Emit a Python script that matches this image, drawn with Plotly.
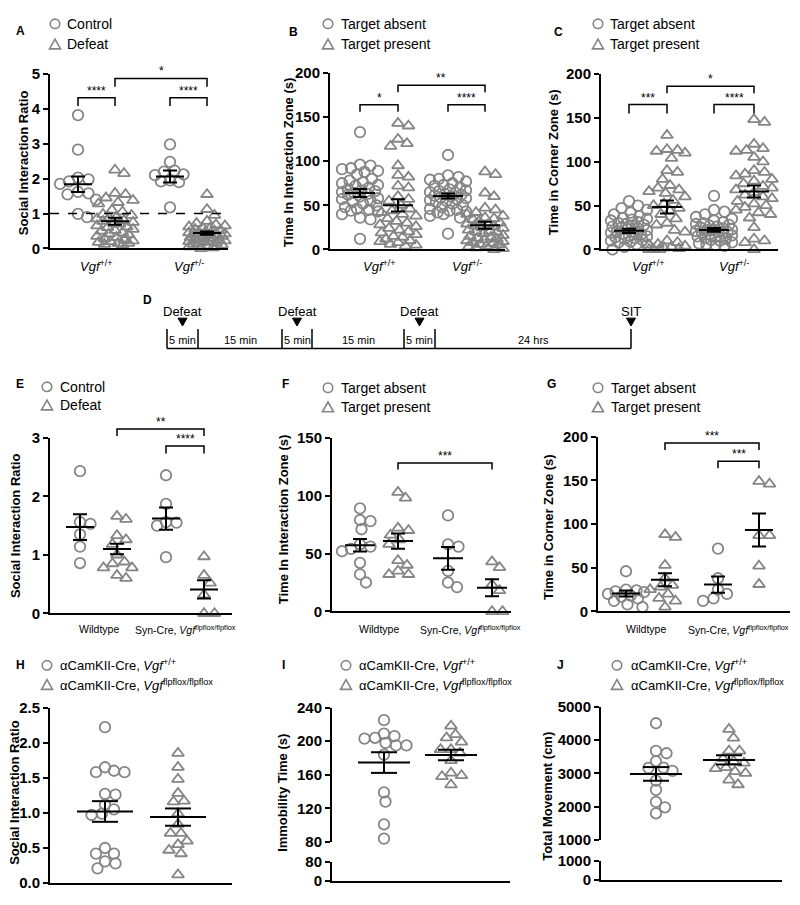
import plotly.graph_objects as go

# ======================= DATA =======================
# Panel A - Social interaction ratio (Control / Defeat) for Vgf+/+ and Vgf+/-
A_categories = ["<i>Vgf</i><sup>+/+</sup>", "<i>Vgf</i><sup>+/-</sup>"]
A_series = ["Control", "Defeat"]
A_ctrl_wt = [3.82, 2.83, 2.03, 1.98, 1.92, 1.85, 1.62, 1.58, 1.55, 1.40, 0.99, 0.90]
A_def_wt = [2.25, 2.15, 1.58, 1.55, 1.45, 1.38, 1.32, 1.28, 1.10, 1.05, 0.98, 0.95, 0.90, 0.88,
            0.85, 0.80, 0.78, 0.75, 0.72, 0.70, 0.65, 0.62, 0.60, 0.55, 0.52, 0.50, 0.45, 0.42,
            0.40, 0.35, 0.32, 0.28, 0.25, 0.22, 0.20, 0.18, 0.15, 0.15, 0.12, 0.10]
A_ctrl_het = [2.98, 2.48, 2.23, 2.20, 2.12, 2.10, 1.95, 1.92, 1.90, 1.18]
A_def_het = [1.55, 1.12, 0.95, 0.78, 0.72, 0.68, 0.65, 0.62, 0.60, 0.58, 0.55, 0.52, 0.50, 0.48,
             0.45, 0.45, 0.42, 0.40, 0.40, 0.38, 0.35, 0.35, 0.32, 0.30, 0.30, 0.28, 0.25, 0.25,
             0.22, 0.20, 0.20, 0.18, 0.15, 0.15, 0.12, 0.10, 0.08, 0.05, 0.02, 0.0]
A_means = [1.84, 0.78, 2.06, 0.44]
A_sems = [0.22, 0.10, 0.17, 0.05]
A_sig = ["****", "****", "*"]

# Panel B - Time in interaction zone (s)
B_series = ["Target absent", "Target present"]
B_abs_wt = [133, 96, 95, 92, 91, 89, 88, 85, 80, 78, 76, 75, 73, 72, 70, 68, 67, 66, 65, 64, 63,
            62, 60, 58, 57, 55, 54, 52, 50, 48, 46, 45, 44, 43, 40, 36, 34, 12]
B_pres_wt = [143, 140, 125, 120, 117, 95, 84, 82, 72, 70, 60, 57, 55, 50, 46, 44, 42, 40, 38, 35,
             32, 30, 28, 26, 24, 22, 20, 19, 17, 15, 14, 12, 10, 9, 8, 6, 5, 4]
B_abs_het = [107, 84, 82, 80, 79, 77, 75, 73, 72, 70, 68, 67, 66, 65, 64, 63, 62, 61, 60, 59, 58,
             57, 56, 55, 54, 52, 50, 48, 46, 45, 44, 43, 42, 40, 38, 36, 18]
B_pres_het = [88, 85, 64, 60, 47, 45, 42, 40, 38, 36, 35, 34, 32, 30, 29, 28, 27, 26, 25, 24, 22,
              21, 20, 19, 18, 16, 15, 14, 13, 12, 11, 10, 9, 8, 7, 6, 5, 4, 3, 2, 1, 0]
B_means = [64, 50, 60.5, 27.5]
B_sems = [4.6, 7.0, 2.8, 4.0]
B_sig = ["*", "****", "**"]

# Panel C - Time in corner zone (s)
C_abs_wt = [55, 50, 47, 45, 42, 40, 38, 36, 35, 34, 33, 31, 30, 29, 28, 27, 26, 25, 24, 23, 22,
            21, 20, 19, 18, 17, 16, 15, 14, 13, 12, 11, 10, 9, 8, 6, 5, 3, 0]
C_pres_wt = [130, 114, 113, 112, 110, 104, 90, 88, 80, 73, 70, 68, 66, 64, 60, 56, 52, 50, 47, 44,
             40, 35, 30, 28, 22, 20, 10, 8, 6, 5, 4, 3, 2, 1, 0, 0, 0]
C_abs_het = [61, 45, 43, 40, 37, 35, 33, 31, 30, 29, 28, 27, 26, 25, 24, 23, 22, 22, 21, 20, 20,
             19, 18, 17, 16, 15, 14, 13, 12, 11, 10, 8, 7, 6, 5, 4]
C_pres_het = [148, 145, 120, 115, 113, 112, 105, 100, 90, 88, 86, 84, 80, 78, 75, 72, 70, 68, 65,
              62, 60, 58, 55, 52, 50, 48, 45, 42, 40, 36, 25, 12, 10, 8, 0]
C_means = [21.2, 48.4, 22.3, 66]
C_sems = [2.5, 7.4, 2.2, 6.9]
C_sig = ["***", "****", "*"]

# Panel D - timeline
D_segments = ["5 min", "15 min", "5 min", "15 min", "5 min", "24 hrs"]
D_events = ["Defeat", "Defeat", "Defeat", "SIT"]

# Panel E - Social interaction ratio, Wildtype vs Syn-Cre
EFG_categories = ["Wildtype", "Syn-Cre, <i>Vgf</i><sup>flpflox/flpflox</sup>"]
E_ctrl_wt = [2.43, 1.56, 1.53, 1.35, 1.14, 0.86]
E_def_wt = [1.66, 1.61, 1.33, 1.26, 1.18, 1.00, 0.88, 0.85, 0.78, 0.78, 0.65, 0.60]
E_ctrl_syn = [2.36, 1.87, 1.56, 1.55, 1.50, 0.96]
E_def_syn = [0.97, 0.65, 0.52, 0.32, 0.0, 0.0]
E_means = [1.475, 1.10, 1.62, 0.41]
E_sems = [0.22, 0.09, 0.19, 0.155]
E_sig = ["**", "****"]

# Panel F - Time in interaction zone
F_abs_wt = [89, 79, 78, 71, 58, 56, 54, 52, 42, 32, 25]
F_pres_wt = [103, 98, 72, 70, 66, 62, 58, 44, 40, 35, 32, 32]
F_abs_syn = [83, 58, 56, 35, 25, 21]
F_pres_syn = [43, 38, 23, 18, 0, 0]
F_means = [57.1, 60.8, 45.9, 20.5]
F_sems = [5.4, 6.6, 9.8, 7.3]
F_sig = ["***"]

# Panel G - Time in corner zone
G_abs_wt = [46, 25, 24, 23, 22, 20, 18, 17, 15, 12, 8, 5]
G_pres_wt = [88, 85, 53, 38, 30, 28, 25, 20, 15, 12, 5]
G_abs_syn = [72, 38, 25, 20, 15, 12]
G_pres_syn = [149, 146, 87, 87, 52, 31]
G_means = [20.6, 36.3, 30.7, 93.3]
G_sems = [3.4, 7.5, 9.4, 19.0]
G_sig = ["***", "***"]

# Panels H, I, J - aCamKII-Cre
HIJ_series = ["\u03b1CamKII-Cre, <i>Vgf</i><sup>+/+</sup>",
              "\u03b1CamKII-Cre, <i>Vgf</i><sup>flpflox/flpflox</sup>"]
H_wt = [2.22, 1.65, 1.60, 1.58, 1.58, 1.27, 1.26, 1.12, 1.05, 0.99, 0.97, 0.50, 0.42, 0.42, 0.31,
        0.28, 0.21]
H_flox = [1.85, 1.65, 1.48, 1.28, 1.17, 1.16, 0.99, 0.84, 0.71, 0.71, 0.60, 0.55, 0.47, 0.42, 0.12]
H_means = [1.02, 0.94]
H_sems = [0.147, 0.123]

I_wt = [225, 209, 206, 204, 203, 198, 195, 195, 184, 139, 128, 101, 84]
I_flox = [218, 208, 204, 199, 190, 190, 186, 177, 162, 159, 158, 148]
I_means = [174.5, 183.5]
I_sems = [12.3, 6.3]

J_wt = [4500, 3670, 3600, 3360, 3170, 3160, 3070, 2780, 2500, 2140, 1980, 1800]
J_flox = [4320, 4060, 3670, 3670, 3440, 3360, 3310, 3170, 3140, 3050, 3000, 2800, 2660]
J_means = [2980, 3400]
J_sems = [205, 137]

# ======================= STYLE / LAYOUT =======================
FONT = "Liberation Sans, Arial, sans-serif"
GRAY = "#858585"
PAGE_W, PAGE_H = 800, 905
BODY = 8  # default body margin of the html page
W, H = PAGE_W - 2 * BODY, PAGE_H - 2 * BODY


def fx(p):
    return (p - BODY) / W


def fy(p):
    return 1 - (p - BODY) / H


fig = go.Figure()
shapes = []
annotations = []
layout = dict(width=W, height=H, margin=dict(l=0, r=0, t=0, b=0), paper_bgcolor="white",
              plot_bgcolor="rgba(0,0,0,0)", showlegend=False,
              font=dict(family=FONT, color="black"))
counters = {"x": 0, "y": 0}


def new_axis(kind):
    counters[kind] += 1
    n = counters[kind]
    ref = kind if n == 1 else f"{kind}{n}"
    key = f"{kind}axis" if n == 1 else f"{kind}axis{n}"
    return ref, key


def yaxis_dict(ydom, yrange, tickvals, xref, tickformat=None):
    d = dict(domain=[fy(ydom[1]), fy(ydom[0])], range=yrange, anchor=xref, tickvals=tickvals,
             ticks="outside", ticklen=5, tickwidth=2, tickcolor="black", showline=True,
             linecolor="black", linewidth=2, showgrid=False, zeroline=False, fixedrange=True,
             tickfont=dict(family=FONT, size=15, color="black", weight="bold"))
    if tickformat:
        d["tickformat"] = tickformat
    return d


def swarm(vals, ppu, maxhalf, diam=10.5, step=1.5):
    order = sorted(range(len(vals)), key=lambda i: -vals[i])
    cands = [0.0]
    k = 1
    while k * step <= maxhalf:
        cands += [k * step, -k * step]
        k += 1
    placed = []
    offs = [0.0] * len(vals)
    for i in order:
        yp = vals[i] * ppu
        best, bestc, bestd = None, 0.0, -1.0
        for c in cands:
            md = min([((c - a) ** 2 + (yp - b) ** 2) ** 0.5 for a, b in placed], default=1e9)
            if md >= diam * 0.9:
                best = c
                break
            if md > bestd:
                bestd, bestc = md, c
        if best is None:
            best = bestc
        offs[i] = best
        placed.append((best, yp))
    return offs


class Panel:
    def __init__(self, xdom, ydom, yrange):
        self.xdom, self.ydom, self.yrange = xdom, ydom, yrange

    def px(self, xoff):
        return self.xdom[0] + xoff

    def py(self, v):
        y0, y1 = self.ydom
        r0, r1 = self.yrange
        return y1 - (v - r0) / (r1 - r0) * (y1 - y0)


def panel(xdom, ydom, yrange, tickvals, groups, centers, symbols, means, sems,
          mean_half, cap_half, spread, tickformat=None, lower=None):
    xref, xkey = new_axis("x")
    yref, ykey = new_axis("y")
    layout[ykey] = yaxis_dict(ydom, yrange, tickvals, xref, tickformat)
    xanchor = yref
    if lower:
        lref, lkey = new_axis("y")
        layout[lkey] = yaxis_dict(lower["ydom"], lower["range"], lower["tickvals"], xref)
        xanchor = lref
        fig.add_trace(go.Scatter(x=[], y=[], xaxis=xref, yaxis=lref, showlegend=False))
    layout[xkey] = dict(domain=[fx(xdom[0]), fx(xdom[1])], range=[0, xdom[1] - xdom[0]],
                        anchor=xanchor, showline=True, linecolor="black", linewidth=2,
                        ticks="", showticklabels=False, showgrid=False, zeroline=False,
                        fixedrange=True)
    ppu = (ydom[1] - ydom[0]) / (yrange[1] - yrange[0])
    for vals, c, sym, m, s in zip(groups, centers, symbols, means, sems):
        offs = swarm(vals, ppu, spread)
        fig.add_trace(go.Scatter(
            x=[c + o for o in offs], y=vals, mode="markers", xaxis=xref, yaxis=yref,
            cliponaxis=False, showlegend=False, hoverinfo="y",
            marker=dict(symbol=sym, size=10.5, color=GRAY, line=dict(width=1.8, color=GRAY))))
        for (x0, x1, y0, y1) in [(c - mean_half, c + mean_half, m, m),
                                 (c - cap_half, c + cap_half, m + s, m + s),
                                 (c - cap_half, c + cap_half, m - s, m - s),
                                 (c, c, m - s, m + s)]:
            shapes.append(dict(type="line", xref=xref, yref=yref, x0=x0, x1=x1, y0=y0, y1=y1,
                               line=dict(color="black", width=2)))
    return xref, yref, Panel(xdom, ydom, yrange)


def bracket(p, c1, c2, ytop, yleg, label):
    X1, X2 = fx(p.px(c1)), fx(p.px(c2))
    YT, YL = fy(p.py(ytop)), fy(p.py(yleg))
    shapes.append(dict(type="path", xref="paper", yref="paper",
                       path=f"M {X1},{YL} L {X1},{YT} L {X2},{YT} L {X2},{YL}",
                       line=dict(color="black", width=1.5)))
    annotations.append(dict(xref="paper", yref="paper", x=(X1 + X2) / 2, y=YT, text=label,
                            showarrow=False, yanchor="bottom", xanchor="center", yshift=-2,
                            font=dict(family=FONT, size=12, color="black")))


def cat_labels(xref, centers, labels, py, size):
    for (a, b), lab in zip([(centers[0], centers[1]), (centers[2], centers[3])], labels):
        annotations.append(dict(xref=xref, yref="paper", x=(a + b) / 2, y=fy(py), text=lab,
                                showarrow=False, xanchor="center", yanchor="middle",
                                font=dict(family=FONT, size=size, color="black")))


def text(px, py, t, size=12, bold=False, anchor="center", angle=0):
    annotations.append(dict(xref="paper", yref="paper", x=fx(px), y=fy(py), text=t,
                            showarrow=False, xanchor=anchor, yanchor="middle", textangle=angle,
                            font=dict(family=FONT, size=size, color="black",
                                      weight="bold" if bold else "normal")))


def legend(cx, cy1, cy2, tx, labels, size=14):
    r = 4.8
    shapes.append(dict(type="circle", xref="paper", yref="paper", x0=fx(cx - r), x1=fx(cx + r),
                       y0=fy(cy1 + r), y1=fy(cy1 - r), line=dict(color=GRAY, width=1.6)))
    shapes.append(dict(type="path", xref="paper", yref="paper",
                       path=f"M {fx(cx - 5.5)},{fy(cy2 + 4.5)} L {fx(cx + 5.5)},{fy(cy2 + 4.5)} "
                            f"L {fx(cx)},{fy(cy2 - 5.5)} Z",
                       line=dict(color=GRAY, width=1.6)))
    text(tx, cy1, labels[0], size=size, anchor="left")
    text(tx, cy2, labels[1], size=size, anchor="left")


CIRC, TRI = "circle-open", "triangle-up-open"
syms4 = [CIRC, TRI, CIRC, TRI]
TITLE = 13

# ---------- Panel A ----------
cA = [28, 65, 120, 157]
xa, ya, pA = panel((50, 228), (66, 244), [0, 5], [0, 1, 2, 3, 4, 5],
                   [A_ctrl_wt, A_def_wt, A_ctrl_het, A_def_het], cA, syms4, A_means, A_sems,
                   14, 7, 18)
shapes.append(dict(type="line", xref=xa, yref=ya, x0=0, x1=178, y0=1, y1=1,
                   line=dict(color="black", width=1.5, dash="dash")))
bracket(pA, cA[0], cA[1], 4.32, 4.08, A_sig[0])
bracket(pA, cA[2], cA[3], 4.32, 4.08, A_sig[1])
bracket(pA, cA[1], cA[3], 4.87, 4.63, A_sig[2])
cat_labels(xa, cA, A_categories, 262, 13)
text(23, 157, "Social Interaction Ratio", TITLE, True, angle=-90)
text(20, 22, "A", 12, True)
legend(55, 15, 36, 65, A_series)

# ---------- Panel B ----------
cB = [30, 68, 118, 155]
xb, yb, pB = panel((330, 505), (65, 245), [0, 200], [0, 50, 100, 150, 200],
                   [B_abs_wt, B_pres_wt, B_abs_het, B_pres_het], cB, syms4, B_means, B_sems,
                   15, 7, 18)
bracket(pB, cB[0], cB[1], 164, 156, B_sig[0])
bracket(pB, cB[2], cB[3], 164, 156, B_sig[1])
bracket(pB, cB[1], cB[3], 186, 178, B_sig[2])
cat_labels(xb, cB, A_categories, 262, 13)
text(288, 156, "Time In Interaction Zone (s)", TITLE, True, angle=-90)
text(293, 23, "B", 12, True)
legend(328, 15, 36, 339, B_series)

# ---------- Panel C ----------
cC = [28, 66, 113, 153]
xc, yc, pC = panel((601, 778), (66, 245), [0, 200], [0, 50, 100, 150, 200],
                   [C_abs_wt, C_pres_wt, C_abs_het, C_pres_het], cC, syms4, C_means, C_sems,
                   15, 7, 18)
bracket(pC, cC[0], cC[1], 165, 155, C_sig[0])
bracket(pC, cC[2], cC[3], 165, 155, C_sig[1])
bracket(pC, cC[1], cC[3], 186, 178, C_sig[2])
cat_labels(xc, cC, A_categories, 262, 13)
text(553, 156, "Time in Corner Zone (s)", TITLE, True, angle=-90)
text(558, 23, "C", 12, True)
legend(598, 15, 36, 608, B_series)

# ---------- Panel D (timeline) ----------
D_ticks = [167, 198, 282, 312, 404, 435, 631]
base_y, tick_top = 346, 326
shapes.append(dict(type="line", xref="paper", yref="paper", x0=fx(D_ticks[0]), x1=fx(D_ticks[-1]),
                   y0=fy(base_y), y1=fy(base_y), line=dict(color="black", width=1.5)))
for t in D_ticks:
    shapes.append(dict(type="line", xref="paper", yref="paper", x0=fx(t), x1=fx(t),
                       y0=fy(base_y), y1=fy(tick_top), line=dict(color="black", width=1.5)))
for i, lab in enumerate(D_segments):
    text((D_ticks[i] + D_ticks[i + 1]) / 2, 337, lab, 11)
ev_x = [(D_ticks[0] + D_ticks[1]) / 2, (D_ticks[2] + D_ticks[3]) / 2,
        (D_ticks[4] + D_ticks[5]) / 2, D_ticks[6]]
for ex, lab in zip(ev_x, D_events):
    text(ex, 308, lab, 13)
    shapes.append(dict(type="path", xref="paper", yref="paper",
                       path=f"M {fx(ex - 4.5)},{fy(315)} L {fx(ex + 4.5)},{fy(315)} "
                            f"L {fx(ex)},{fy(323)} Z",
                       fillcolor="black", line=dict(color="black", width=1)))
text(147, 297, "D", 12, True)

# ---------- Panel E ----------
cE = [30, 67, 116, 154]
xe, ye, pE = panel((50, 232), (437, 616), [0, 3], [0, 1, 2, 3],
                   [E_ctrl_wt, E_def_wt, E_ctrl_syn, E_def_syn], cE, syms4, E_means, E_sems,
                   14, 7, 18)
bracket(pE, cE[1], cE[3], 3.15, 3.03, E_sig[0])
bracket(pE, cE[2], cE[3], 2.86, 2.73, E_sig[1])
cat_labels(xe, cE, EFG_categories, 632, 10.5)
text(15, 527, "Social Interaction Ratio", TITLE, True, angle=-90)
text(20, 382, "E", 12, True)
legend(47, 385, 404, 58, A_series)

# ---------- Panel F ----------
cF = [28, 66, 116, 160]
xf_, yf_, pF = panel((332, 511), (437, 614), [0, 150], [0, 50, 100, 150],
                     [F_abs_wt, F_pres_wt, F_abs_syn, F_pres_syn], cF, syms4, F_means, F_sems,
                     15, 7, 18)
bracket(pF, cF[1], cF[3], 128.3, 122.7, F_sig[0])
cat_labels(xf_, cF, EFG_categories, 632, 10.5)
text(283, 520, "Time In Interaction Zone (s)", TITLE, True, angle=-90)
text(285, 382, "F", 12, True)
legend(328, 386, 406, 339, B_series)

# ---------- Panel G ----------
cG = [28, 67, 120, 161]
xg, yg, pG = panel((598, 790), (436, 614), [0, 200], [0, 50, 100, 150, 200],
                   [G_abs_wt, G_pres_wt, G_abs_syn, G_pres_syn], cG, syms4, G_means, G_sems,
                   14, 7, 18)
bracket(pG, cG[1], cG[3], 193, 185, G_sig[0])
bracket(pG, cG[2], cG[3], 172, 164, G_sig[1])
cat_labels(xg, cG, EFG_categories, 632, 10.5)
text(548, 528, "Time in Corner Zone (s)", TITLE, True, angle=-90)
text(551, 382, "G", 12, True)
legend(598, 386, 406, 609, B_series)

# ---------- Panel H ----------
panel((50, 232), (712, 891), [0, 2.5], [0, 0.5, 1.0, 1.5, 2.0, 2.5],
      [H_wt, H_flox], [55, 128], [CIRC, TRI], H_means, H_sems, 28, 13, 26, tickformat=".1f")
text(15, 799, "Social Interaction Ratio", TITLE, True, angle=-90)
text(20, 669, "H", 12, True)
legend(47, 669, 689, 58, HIJ_series, 13)

# ---------- Panel I ----------
panel((332, 510), (712, 849), [80, 240], [80, 120, 160, 200, 240],
      [I_wt, I_flox], [52, 119], [CIRC, TRI], I_means, I_sems, 26, 13, 26,
      lower=dict(ydom=(869, 889), range=[0, 80], tickvals=[0, 80]))
text(283, 799, "Immobility Time (s)", TITLE, True, angle=-90)
text(283, 669, "I", 12, True)
legend(346, 669, 689, 357, HIJ_series, 13)

# ---------- Panel J ----------
panel((601, 782), (711, 847), [1000, 5000], [1000, 2000, 3000, 4000, 5000],
      [J_wt, J_flox], [55, 128], [CIRC, TRI], J_means, J_sems, 26, 13, 26,
      lower=dict(ydom=(868, 888), range=[0, 1000], tickvals=[0, 1000]))
text(548, 803, "Total Movement (cm)", TITLE, True, angle=-90)
text(560, 669, "J", 12, True)
legend(617, 669, 689, 629, HIJ_series, 13)

layout["shapes"] = shapes
layout["annotations"] = annotations
fig.update_layout(**layout)

fig.write_html("out.html", config=dict(displayModeBar=False))
